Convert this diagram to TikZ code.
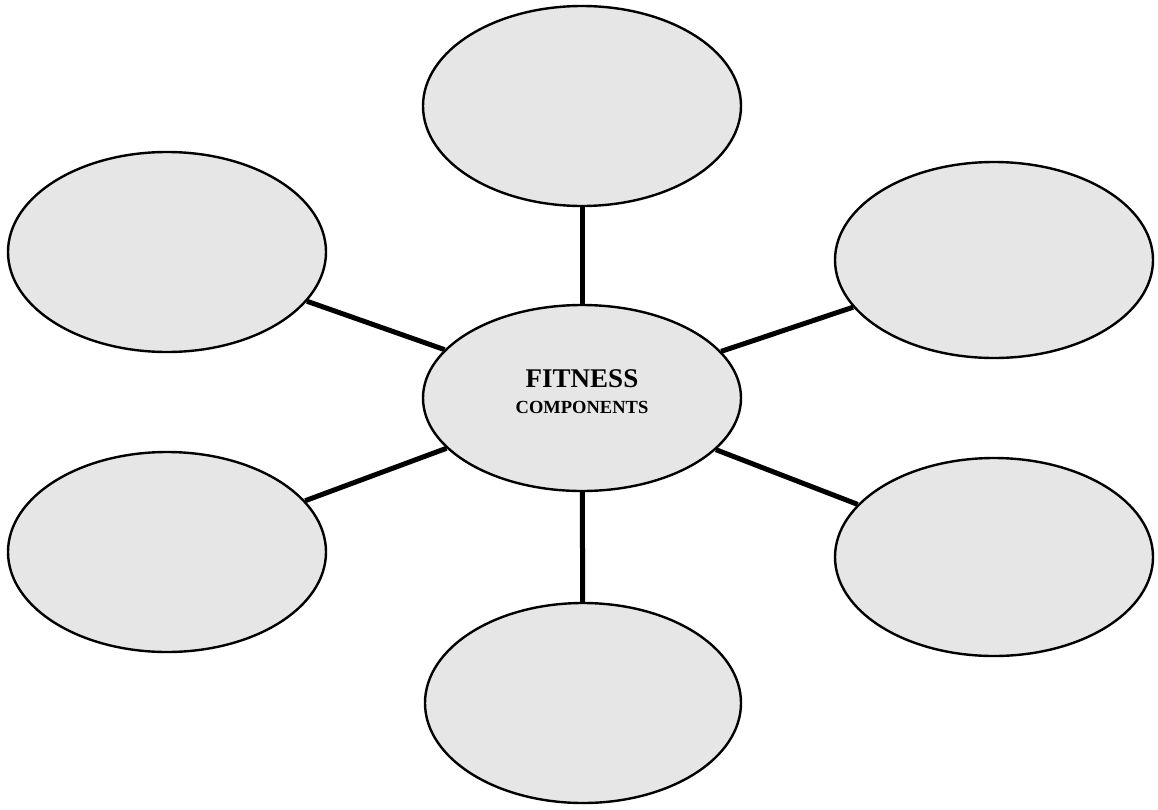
\documentclass[tikz,border=0pt]{standalone}
\usepackage{fontspec}
\setmainfont{Liberation Serif}
\usetikzlibrary{shapes.geometric}
\definecolor{bubblefill}{HTML}{E6E6E6}
\begin{document}
\begin{tikzpicture}[x=1pt,y=-1pt,
  bubble/.style={ellipse,draw=black,line width=2.4pt,fill=bubblefill,inner sep=0pt},
  spoke/.style={line width=5pt,draw=black}]
\useasboundingbox[fill=white] (0,0) rectangle (1158,809);
\node[bubble,minimum width=318pt,minimum height=200pt] (top) at (582,106) {};
\node[bubble,minimum width=318pt,minimum height=200pt] (tl) at (167,252) {};
\node[bubble,minimum width=318pt,minimum height=196pt] (tr) at (994,260) {};
\node[bubble,minimum width=318pt,minimum height=200pt] (bl) at (167,552) {};
\node[bubble,minimum width=318pt,minimum height=198pt] (br) at (994,557) {};
\node[bubble,minimum width=316pt,minimum height=200pt] (bot) at (583,703) {};
\node[bubble,minimum width=318pt,minimum height=186pt] (c) at (582,398) {};
\node[align=center,inner sep=0pt,font=\bfseries\fontsize{27}{26}\selectfont] (clabel) at (582,392)
  {FITNESS\\{\fontsize{18.5}{26}\selectfont COMPONENTS}};
\draw[spoke] (top) -- (c);
\draw[spoke] (tl) -- (c);
\draw[spoke] (tr) -- (c);
\draw[spoke] (bl) -- (c);
\draw[spoke] (br) -- (c);
\draw[spoke] (bot) -- (c);
\end{tikzpicture}
\end{document}
